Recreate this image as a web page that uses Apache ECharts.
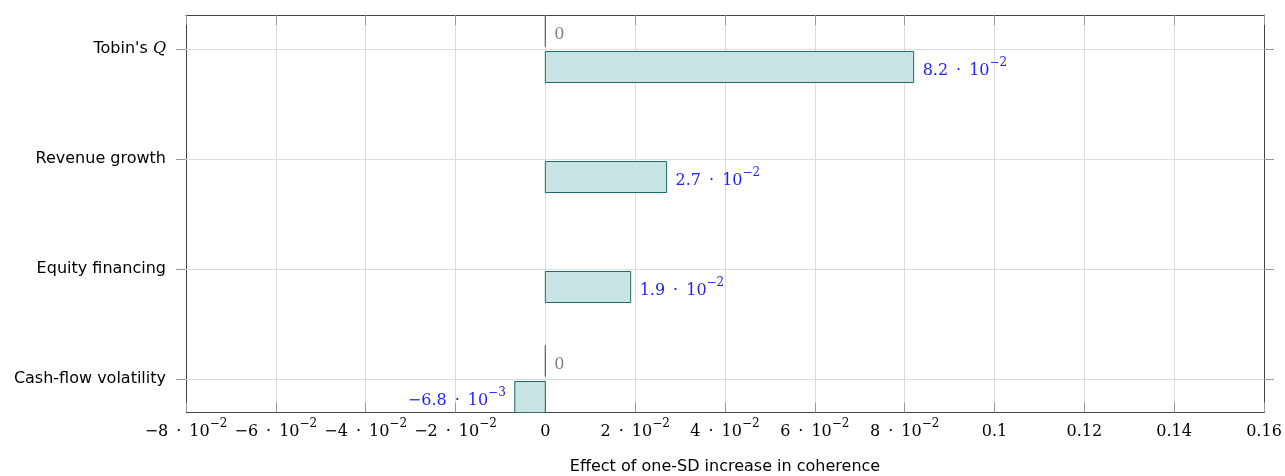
<!DOCTYPE html>
<html>
<head>
<meta charset="utf-8">
<script src="https://cdn.jsdelivr.net/npm/echarts@6/dist/echarts.min.js"></script>
<style>
html,body{margin:0;padding:0;background:#fff;}
#chart{width:1285px;height:476px;}
</style>
</head>
<body>
<div id="chart"></div>
<script>
// ---- data ----
const categories = ["Tobin's Q", "Revenue growth", "Equity financing", "Cash-flow volatility"];
const zeroSeries = [0, null, null, 0];            // first (zero) series
const effectSeries = [0.082, 0.027, 0.019, -0.0068]; // effect of one-SD increase
const xMin = -0.08, xMax = 0.16, xInterval = 0.02;
const xTickMant = ['−8', '−6', '−4', '−2', '0', '2', '4', '6', '8', '0.1', '0.12', '0.14', '0.16'];
const xTickExp  = ['−2', '−2', '−2', '−2', '', '−2', '−2', '−2', '−2', '', '', '', ''];
const xTitle = 'Effect of one-SD increase in coherence';

// ---- helpers ----
const SERIF = '"DejaVu Serif", "Liberation Serif", serif';
const SANS = '"DejaVu Sans", "Liberation Sans", sans-serif';
const DOT = '\u2002·\u2002';
const nCat = categories.length;
const yPos = i => nCat - 1 - i;
const richNum = (color) => ({
  b: {fontFamily: SERIF, fontSize: 16, lineHeight: 22, verticalAlign: 'bottom', color: color, fill: color},
  s: {fontFamily: SERIF, fontSize: 12, lineHeight: 12, verticalAlign: 'top', color: color, fill: color}
});
function sciLabel(v) {
  if (v === 0) return '{b|0}';
  const e = Math.floor(Math.log10(Math.abs(v)));
  const m = (v / Math.pow(10, e)).toFixed(1).replace('-', '−');
  return '{b|' + m + DOT + '10}{s|' + String(e).replace('-', '−') + '}';
}
function makeData(arr) {
  const out = [];
  arr.forEach((v, i) => { if (v !== null) out.push([v, yPos(i)]); });
  return out;
}
function barRenderer(shift, h, stroke, fill, labelColor) {
  return function (params, api) {
    const v = api.value(0), yv = api.value(1);
    const p0 = api.coord([0, yv]);
    const p1 = api.coord([v, yv]);
    const cy = p0[1] + shift;
    const x0 = Math.min(p0[0], p1[0]);
    const w = Math.abs(p1[0] - p0[0]);
    let tx, align;
    if (v < 0) { tx = p1[0] - 9; align = 'right'; }
    else { tx = p1[0] + 9; align = 'left'; }
    return {
      type: 'group',
      children: [
        {type: 'rect', shape: {x: x0, y: cy - h / 2, width: w, height: h},
         style: {fill: fill, stroke: stroke, lineWidth: 1}},
        {type: 'text', x: tx, y: cy + 1,
         style: {text: sciLabel(v), rich: richNum(labelColor), fill: labelColor,
                 align: align, verticalAlign: 'middle'}}
      ]
    };
  };
}

const chart = echarts.init(document.getElementById('chart'), null, {renderer: 'canvas'});
const yTicks = categories.map((c, i) => yPos(i));
const gridLines = yTicks.map(v => ({yAxis: v}));
const yMin = -33.5 / 110, yMax = 3 + 34 / 110;

const option = {
  animation: false,
  grid: {left: 186, right: 21, top: 15, bottom: 63.5, containLabel: false, outerBoundsMode: 'none'},
  xAxis: [{
    type: 'value', position: 'bottom', min: xMin, max: xMax, interval: xInterval,
    axisLine: {show: true, onZero: false, lineStyle: {color: '#444', width: 1}},
    axisTick: {show: true, inside: true, length: 10, lineStyle: {color: '#999'}},
    splitLine: {show: true, lineStyle: {color: '#dcdcdc', width: 1}},
    axisLabel: {
      margin: 5, color: '#000',
      formatter: function (v) {
        const i = Math.round((v - xMin) / xInterval);
        const m = xTickMant[i], e = xTickExp[i];
        return e ? '{b|' + m + DOT + '10}{s|' + e + '}' : '{b|' + m + '}';
      },
      rich: richNum('#000')
    },
    name: xTitle, nameLocation: 'middle', nameGap: 46,
    nameTextStyle: {fontFamily: SANS, fontSize: 16, color: '#000'}
  }, {
    type: 'value', position: 'top', min: xMin, max: xMax, interval: xInterval,
    axisLine: {show: true, onZero: false, lineStyle: {color: '#444', width: 1}},
    axisTick: {show: true, inside: true, length: 10, lineStyle: {color: '#999'}},
    splitLine: {show: false}, axisLabel: {show: false}
  }],
  yAxis: [{
    type: 'value', position: 'left', min: yMin, max: yMax,
    axisLine: {show: true, onZero: false, lineStyle: {color: '#444', width: 1}},
    axisTick: {show: true, inside: false, length: 10, customValues: yTicks, lineStyle: {color: '#999'}},
    splitLine: {show: false},
    axisLabel: {
      show: true, margin: 20, customValues: yTicks, color: '#000',
      fontFamily: SANS, fontSize: 16,
      formatter: function (v) {
        const c = categories[nCat - 1 - Math.round(v)];
        return c.replace(/ Q$/, ' {q|Q}');
      },
      rich: {q: {fontFamily: SERIF, fontStyle: 'italic', fontSize: 16, color: '#000'}}
    }
  }, {
    type: 'value', position: 'right', min: yMin, max: yMax,
    axisLine: {show: true, onZero: false, lineStyle: {color: '#444', width: 1}},
    axisTick: {show: true, inside: false, length: 10, customValues: yTicks, lineStyle: {color: '#999'}},
    splitLine: {show: false}, axisLabel: {show: false}
  }],
  series: [
    {
      type: 'line', data: [], xAxisIndex: 0, yAxisIndex: 0, z: 1, silent: true,
      markLine: {silent: true, symbol: 'none', label: {show: false},
                 lineStyle: {color: '#dcdcdc', type: 'solid', width: 1}, data: gridLines}
    },
    {
      type: 'custom', name: 'zero', z: 3, clip: true,
      data: makeData(zeroSeries),
      renderItem: barRenderer(-18, 31, '#666', '#c6e2e3', '#808080')
    },
    {
      type: 'custom', name: 'effect', z: 3, clip: true,
      data: makeData(effectSeries),
      renderItem: barRenderer(18, 31, '#1a6b69', '#c8e3e4', '#1f1fff')
    }
  ]
};
chart.setOption(option);
</script>
</body>
</html>
